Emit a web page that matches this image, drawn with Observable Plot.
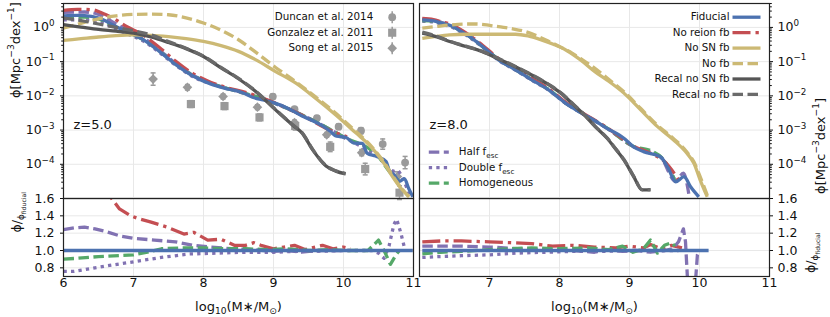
<!DOCTYPE html>
<html><head><meta charset="utf-8">
<script src="https://cdn.jsdelivr.net/npm/d3@7"></script>
<script src="https://cdn.jsdelivr.net/npm/@observablehq/plot@0.6"></script>
<style>
body{margin:0;background:#fff;}
#chart{position:relative;width:830px;height:317px;font-family:"DejaVu Sans",sans-serif;color:#111;}
#chart svg{position:absolute;overflow:visible;background:transparent;max-width:none;}
</style></head><body><div id="chart"></div>
<script>
// ---------------- tick labels ----------------
const massTicksLeft = [6, 7, 8, 9, 10, 11];
const massTicksRight = [7, 8, 9, 10, 11];
const massGrid = [7, 8, 9, 10];
const phiTicks = [1e-4, 1e-3, 1e-2, 1e-1, 1];
const ratioTicks = [0.8, 1.0, 1.2, 1.4, 1.6];
const ratioGrid = [0.8, 1.0, 1.2, 1.4];

// ---------------- legend labels ----------------
const modelLabels = ["Fiducial", "No reion fb", "No SN fb", "No fb", "Recal no SN fb", "Recal no fb"];
const modelKeys = ["fid", "reion", "sn", "nofb", "recalSN", "recalFb"];
const escLabels = ["Half f_{esc}", "Double f_{esc}", "Homogeneous"];
const escKeys = ["half", "dbl", "hom"];
const obsLabels = ["Duncan et al. 2014", "Gonzalez et al. 2011", "Song et al. 2015"];
const panelLabels = ["z=5.0", "z=8.0"];

// ---------------- observations z=5 (log10 M*, log10 phi, err dex) ----------------
const duncanM = [8.99, 9.30, 9.62, 9.93, 10.25, 10.56, 10.88];
const duncanLogPhi = [-2.02, -2.39, -2.65, -2.90, -3.02, -3.41, -3.95];
const duncanErr = [0.07, 0.07, 0.07, 0.08, 0.09, 0.15, 0.18];
const gonzalezM = [7.82, 8.30, 8.80, 9.31, 9.81, 10.31, 10.80];
const gonzalezLogPhi = [-2.24, -2.30, -2.63, -2.88, -3.49, -4.14, -4.83];
const gonzalezErr = [0.10, 0.10, 0.10, 0.12, 0.14, 0.17, 0.20];
const songM = [7.28, 7.77, 8.28, 8.77, 9.30, 9.76, 10.26, 10.77];
const songLogPhi = [-1.51, -1.75, -2.02, -2.33, -2.78, -3.14, -3.66, -4.36];
const songErr = [0.18, 0.08, 0.07, 0.07, 0.07, 0.07, 0.09, 0.14];

// ---------------- z=5 mass functions [log10 M*, log10 phi] ----------------
const z5fid = [[6.0,0.34],[6.2,0.35],[6.4,0.32],[6.55,0.24],[6.7,0.08],[6.9,-0.12],[7.15,-0.37],[7.4,-0.75],[7.6,-1.08],[7.85,-1.42],[8.1,-1.65],[8.35,-1.8],[8.55,-1.9],[8.7,-2.04],[8.85,-2.12],[9.0,-2.2],[9.2,-2.36],[9.4,-2.58],[9.55,-2.72],[9.7,-2.88],[9.8,-3.02],[9.9,-3.18],[10.03,-3.21],[10.15,-3.38],[10.27,-3.39],[10.34,-3.68],[10.46,-3.76],[10.61,-3.92],[10.65,-4.17],[10.72,-4.3],[10.8,-4.5],[10.87,-4.42],[10.93,-4.7],[10.99,-4.95]];
const z5reion = [[6.0,0.5],[6.2,0.53],[6.4,0.52],[6.55,0.42],[6.7,0.28],[6.9,0.03],[7.15,-0.24],[7.4,-0.64],[7.6,-0.98],[7.85,-1.35],[8.1,-1.6],[8.35,-1.77],[8.6,-1.9],[9.0,-2.19],[9.4,-2.56],[9.8,-3.0],[10.05,-3.2]];
const z5half = [[6.0,0.44],[6.3,0.45],[6.5,0.38],[6.7,0.16],[6.9,-0.06],[7.15,-0.32],[7.4,-0.71],[7.6,-1.05],[7.85,-1.4],[8.2,-1.7],[8.6,-1.93],[9.0,-2.2],[9.5,-2.65],[10.0,-3.2]];
const z5dbl = [[6.0,0.22],[6.3,0.22],[6.5,0.2],[6.7,0.0],[6.9,-0.18],[7.15,-0.41],[7.4,-0.78],[7.6,-1.1],[7.85,-1.44],[8.2,-1.7],[8.6,-1.94],[9.0,-2.21],[9.5,-2.66],[10.0,-3.21],[10.5,-3.8],[10.72,-4.2],[10.76,-4.17],[10.85,-4.43],[10.95,-4.95]];
const z5hom = [[6.0,0.29],[6.3,0.3],[6.5,0.25],[6.7,0.06],[6.9,-0.13],[7.15,-0.37],[7.4,-0.74],[7.6,-1.07],[7.85,-1.41],[8.2,-1.7],[8.6,-1.93],[9.0,-2.2],[9.5,-2.65],[10.0,-3.2],[10.5,-3.78],[10.67,-4.25],[10.8,-4.5]];
const z5sn = [[6.0,-0.38],[6.25,-0.33],[6.5,-0.28],[6.75,-0.24],[7.0,-0.22],[7.25,-0.23],[7.5,-0.27],[7.75,-0.33],[8.0,-0.41],[8.25,-0.53],[8.5,-0.7],[8.75,-0.95],[9.03,-1.29],[9.32,-1.63],[9.6,-2.07],[9.89,-2.56],[10.18,-3.09],[10.37,-3.44],[10.51,-3.78],[10.61,-4.07],[10.7,-4.36],[10.8,-4.65],[10.94,-4.95]];
const z5nofb = [[6.0,-0.02],[6.25,0.12],[6.5,0.25],[6.75,0.34],[7.0,0.38],[7.25,0.39],[7.5,0.37],[7.75,0.28],[8.0,0.13],[8.25,-0.08],[8.5,-0.36],[8.75,-0.73],[9.03,-1.17],[9.32,-1.59],[9.6,-2.03],[9.89,-2.51],[10.18,-3.05],[10.37,-3.41],[10.51,-3.75],[10.61,-4.03],[10.7,-4.33],[10.8,-4.62],[10.93,-4.95]];
const z5recalSN = [[6.0,0.08],[6.25,0.01],[6.5,-0.06],[6.75,-0.11],[7.0,-0.17],[7.25,-0.28],[7.5,-0.44],[7.75,-0.62],[8.0,-0.85],[8.25,-1.18],[8.5,-1.5],[8.75,-1.88],[9.03,-2.41],[9.27,-2.85],[9.41,-3.09],[9.56,-3.58],[9.75,-4.05],[9.89,-4.2],[10.03,-4.28]];
const z5recalFb = [[6.0,0.27],[6.25,0.2],[6.5,0.1],[6.75,0.0],[7.0,-0.1],[7.25,-0.22],[7.5,-0.41],[7.75,-0.61],[8.0,-0.84],[8.25,-1.17],[8.5,-1.49],[8.75,-1.87],[9.03,-2.4],[9.27,-2.84],[9.41,-3.08],[9.56,-3.57],[9.75,-4.04],[9.89,-4.19],[10.03,-4.27]];

// ---------------- z=8 mass functions ----------------
const z8fid = [[6.04,0.22],[6.2,0.19],[6.32,0.12],[6.45,0.05],[6.56,-0.07],[6.7,-0.25],[6.9,-0.56],[7.13,-0.95],[7.37,-1.24],[7.61,-1.54],[7.85,-1.83],[8.09,-2.22],[8.32,-2.51],[8.5,-2.72],[8.68,-2.95],[8.92,-3.24],[9.06,-3.49],[9.2,-3.63],[9.44,-3.78],[9.55,-4.1],[9.66,-4.51],[9.78,-4.36],[9.87,-4.65],[9.99,-4.95]];
const z8reion = [[6.04,0.26],[6.2,0.23],[6.32,0.16],[6.45,0.09],[6.56,-0.03],[6.7,-0.21],[6.9,-0.52],[7.13,-0.91],[7.37,-1.2],[7.61,-1.5],[7.85,-1.8],[8.09,-2.19],[8.32,-2.49],[8.68,-2.93],[9.06,-3.47],[9.3,-3.68],[9.5,-3.92],[9.7,-4.45]];
const z8half = [[6.04,0.24],[6.2,0.21],[6.32,0.14],[6.45,0.07],[6.56,-0.05],[6.7,-0.23],[6.9,-0.55],[7.13,-0.94],[7.37,-1.23],[7.61,-1.54],[7.85,-1.83],[8.09,-2.22],[8.32,-2.51],[8.68,-2.95],[9.06,-3.49],[9.44,-3.78],[9.66,-4.5],[9.77,-4.26],[9.85,-4.9]];
const z8dbl = [[6.04,0.18],[6.2,0.16],[6.32,0.09],[6.45,0.02],[6.56,-0.1],[6.7,-0.27],[6.9,-0.58],[7.13,-0.96],[7.37,-1.25],[7.61,-1.55],[7.85,-1.84],[8.09,-2.22],[8.32,-2.51],[8.68,-2.95],[9.06,-3.49],[9.44,-3.78],[9.66,-4.51]];
const z8hom = [[6.04,0.2],[6.2,0.18],[6.32,0.12],[6.45,0.05],[6.56,-0.07],[6.7,-0.25],[6.9,-0.56],[7.13,-0.94],[7.37,-1.23],[7.61,-1.53],[7.85,-1.82],[8.09,-2.21],[8.32,-2.5],[8.68,-2.94],[9.06,-3.48],[9.3,-3.6],[9.5,-3.9],[9.65,-4.48]];
const z8sn = [[6.04,-0.32],[6.25,-0.26],[6.43,-0.22],[6.65,-0.2],[6.9,-0.2],[7.15,-0.2],[7.37,-0.2],[7.55,-0.25],[7.75,-0.37],[7.92,-0.5],[8.09,-0.66],[8.3,-0.95],[8.51,-1.3],[8.68,-1.54],[8.92,-1.92],[9.16,-2.41],[9.4,-2.9],[9.63,-3.29],[9.82,-3.68],[9.92,-3.97],[10.01,-4.46],[10.11,-4.95]];
const z8nofb = [[6.04,-0.02],[6.25,0.03],[6.43,0.07],[6.65,0.1],[6.81,0.1],[7.0,0.06],[7.13,0.02],[7.33,-0.04],[7.51,-0.12],[7.68,-0.25],[7.85,-0.41],[8.02,-0.58],[8.18,-0.75],[8.35,-0.98],[8.51,-1.2],[8.68,-1.48],[8.92,-1.88],[9.16,-2.37],[9.4,-2.86],[9.63,-3.25],[9.82,-3.64],[9.92,-3.93],[10.02,-4.42],[10.12,-4.95]];
const z8recalSN = [[6.04,-0.17],[6.25,-0.28],[6.43,-0.41],[6.65,-0.55],[6.9,-0.71],[7.13,-0.92],[7.37,-1.15],[7.61,-1.4],[7.85,-1.68],[8.02,-1.92],[8.18,-2.22],[8.35,-2.55],[8.51,-2.9],[8.68,-3.24],[8.8,-3.55],[8.92,-3.87],[9.06,-4.36],[9.18,-4.75],[9.3,-4.75]];
const z8recalFb = [[6.04,-0.14],[6.25,-0.26],[6.43,-0.4],[6.65,-0.54],[6.9,-0.7],[7.13,-0.91],[7.37,-1.14],[7.61,-1.39],[7.85,-1.67],[8.02,-1.91],[8.18,-2.21],[8.35,-2.54],[8.51,-2.89],[8.68,-3.23],[8.8,-3.54],[8.92,-3.86],[9.06,-4.35],[9.18,-4.74],[9.3,-4.74]];

// ---------------- ratios phi/phi_fiducial ----------------
const r5fid = [[6.0,1.0],[10.99,1.0]];
const r5reion = [[6.5,1.85],[6.67,1.62],[6.8,1.48],[6.96,1.40],[7.1,1.36],[7.24,1.33],[7.48,1.27],[7.72,1.19],[7.86,1.21],[8.06,1.12],[8.25,1.13],[8.44,1.06],[8.6,1.06],[8.72,1.09],[8.82,1.06],[9.0,1.02],[9.15,1.04],[9.3,1.06],[9.45,1.01],[9.6,1.04],[9.7,1.06],[9.85,1.02],[10.0,1.04],[10.1,1.02]];
const r5half = [[6.0,1.24],[6.15,1.26],[6.3,1.27],[6.45,1.25],[6.6,1.22],[6.8,1.17],[7.0,1.14],[7.3,1.12],[7.6,1.10],[7.85,1.06],[8.1,1.04],[8.4,1.02],[8.7,1.01],[9.0,0.99],[9.2,1.0],[9.4,0.98],[9.6,1.0],[9.8,1.0],[10.0,1.0]];
const r5dbl = [[6.0,0.76],[6.15,0.76],[6.3,0.78],[6.6,0.82],[7.0,0.87],[7.4,0.92],[7.8,0.96],[8.2,0.97],[8.6,0.98],[9.0,0.98],[9.3,0.99],[9.6,0.99],[10.0,1.0],[10.4,1.0],[10.5,0.97],[10.58,0.91],[10.65,1.05],[10.72,1.3],[10.76,1.36],[10.82,1.2],[10.88,1.0]];
const r5hom = [[6.0,0.90],[6.2,0.91],[6.5,0.93],[7.0,0.95],[7.2,0.98],[7.4,1.02],[7.7,1.03],[8.0,1.03],[8.3,1.02],[8.6,1.02],[8.9,1.01],[9.2,1.02],[9.5,1.0],[9.8,1.01],[10.0,1.0],[10.35,1.0],[10.5,1.12],[10.58,1.0],[10.67,0.84],[10.75,0.95],[10.8,1.0]];
const r8fid = [[6.04,1.0],[10.13,1.0]];
const r8reion = [[6.04,1.1],[6.3,1.11],[6.6,1.11],[7.0,1.1],[7.3,1.09],[7.6,1.08],[7.9,1.05],[8.2,1.06],[8.5,1.04],[8.8,1.03],[9.0,1.05],[9.2,1.03],[9.3,1.07],[9.45,1.02],[9.6,1.06],[9.75,1.03]];
const r8half = [[6.04,1.05],[6.3,1.05],[6.6,1.05],[7.0,1.04],[7.4,1.02],[7.8,1.01],[8.2,1.0],[8.5,0.98],[8.7,1.01],[8.9,0.99],[9.1,1.0],[9.3,0.98],[9.5,1.0],[9.62,1.02],[9.7,1.1],[9.77,1.25],[9.8,1.1],[9.84,0.5],[9.93,0.5],[9.97,0.95],[10.0,1.0]];
const r8dbl = [[6.04,0.92],[6.3,0.93],[6.6,0.94],[7.0,0.95],[7.4,0.97],[7.8,0.98],[8.2,0.99],[8.6,0.99],[9.0,1.0],[9.4,1.0],[9.7,1.0]];
const r8hom = [[6.04,0.96],[6.3,0.98],[6.6,0.99],[7.0,1.01],[7.3,1.02],[7.6,1.03],[8.0,1.02],[8.4,1.03],[8.7,1.01],[8.9,1.05],[9.05,0.98],[9.2,1.02],[9.3,1.12],[9.4,0.97],[9.5,1.06],[9.6,1.09],[9.65,1.05]];

// ---------------- styles ----------------
const LW = 3.3;
const STY = {
  fid: {stroke: "#4c72b0"},
  reion: {stroke: "#c44e52", strokeDasharray: "18,5,3.3,5"},
  sn: {stroke: "#ccb974"},
  nofb: {stroke: "#ccb974", strokeDasharray: "10.5,4.5"},
  recalSN: {stroke: "#555555"},
  recalFb: {stroke: "#6a6a6a", strokeDasharray: "10.5,4.5"},
  half: {stroke: "#8172b2", strokeDasharray: "10.5,4.5"},
  dbl: {stroke: "#8172b2", strokeDasharray: "3.3,4.2"},
  hom: {stroke: "#55a868", strokeDasharray: "10.5,4.5"}
};
const GREY = "#9a9a9a", GRID = "#e8e8e8", FRAME = "#222";
const FONT = "DejaVu Sans";

const hline = L => ({draw(ctx) { ctx.moveTo(-L, 0); ctx.lineTo(L, 0); }});
const vline = L => ({draw(ctx) { ctx.moveTo(0, -L); ctx.lineTo(0, L); }});
const diamondSym = {draw(ctx, size) { const r = Math.sqrt(size / Math.PI) * 1.15; ctx.moveTo(0, -r); ctx.lineTo(r, 0); ctx.lineTo(0, r); ctx.lineTo(-r, 0); ctx.closePath(); }};

const topLine = (data, key) => Plot.line(data, {x: d => d[0], y: d => 10 ** d[1], strokeWidth: LW, strokeLinecap: "butt", strokeLinejoin: "round", curve: "monotone-x", clip: true, ...STY[key]});
const ratioLine = (data, key) => Plot.line(data, {x: d => d[0], y: d => d[1], strokeWidth: LW, strokeLinecap: "butt", strokeLinejoin: "round", clip: true, ...STY[key]});

const obsSets = [
  {m: duncanM, l: duncanLogPhi, e: duncanErr, symbol: "circle", r: 3.9},
  {m: gonzalezM, l: gonzalezLogPhi, e: gonzalezErr, symbol: "square", r: 4.6},
  {m: songM, l: songLogPhi, e: songErr, symbol: diamondSym, r: 4.2}
];
const expFmt = v => { const k = Math.round(Math.log10(v)); return `10^{${k < 0 ? "\u2212" + (-k) : k}}`; };
const minorPhi = [];
for (let k = -5; k <= 0; k++) for (let j = 2; j <= 9; j++) if (j * 10 ** k <= 5) minorPhi.push(j * 10 ** k);

const commonStyle = {fontFamily: FONT, fontSize: "12.5px", background: "transparent", overflow: "visible", color: "#111"};
const txt = (s, o) => Plot.text([s], {text: d => d, fontFamily: FONT, fill: "#111", ...o});

function topPanel(which) {
  const left = which === 5;
  const d = left
    ? {half: z5half, dbl: z5dbl, hom: z5hom, reion: z5reion, fid: z5fid, sn: z5sn, nofb: z5nofb, recalSN: z5recalSN, recalFb: z5recalFb}
    : {half: z8half, dbl: z8dbl, hom: z8hom, reion: z8reion, fid: z8fid, sn: z8sn, nofb: z8nofb, recalSN: z8recalSN, recalFb: z8recalFb};
  const marks = [
    Plot.ruleY(phiTicks, {stroke: GRID, strokeWidth: 1}),
    Plot.ruleX(massGrid, {stroke: GRID, strokeWidth: 1})
  ];
  if (left) {
    for (const s of obsSets) {
      const rows = s.m.map((m, i) => ({m, l: s.l[i], e: s.e[i]}));
      marks.push(
        Plot.ruleX(rows, {x: "m", y1: r => 10 ** (r.l - r.e), y2: r => 10 ** (r.l + r.e), stroke: GREY, strokeWidth: 1.5}),
        Plot.dot(rows, {x: "m", y: r => 10 ** (r.l + r.e), symbol: hline(2.5), stroke: GREY, strokeWidth: 1.5, fill: "none"}),
        Plot.dot(rows, {x: "m", y: r => 10 ** (r.l - r.e), symbol: hline(2.5), stroke: GREY, strokeWidth: 1.5, fill: "none"}),
        Plot.dot(rows, {x: "m", y: r => 10 ** r.l, symbol: s.symbol, r: s.r, fill: GREY, stroke: "none"})
      );
    }
  }
  for (const k of ["half", "dbl", "hom", "reion", "fid", "sn", "nofb", "recalSN", "recalFb"]) marks.push(topLine(d[k], k));
  marks.push(Plot.frame({stroke: FRAME, strokeWidth: 1.2}));
  const anchor = left ? "left" : "right";
  marks.push(
    Plot.axisY(phiTicks, {anchor, tickSize: 3, tickPadding: left ? 6 : 5, tickFormat: expFmt, fontSize: 12.5, label: null, fill: "#111"}),
    Plot.axisY(minorPhi, {anchor, tickSize: 1.8, tickFormat: () => "", label: null})
  );
  marks.push(txt(left ? panelLabels[0] : panelLabels[1], {frameAnchor: "top-left", dx: 10, dy: 121, textAnchor: "start", lineAnchor: "middle", fontSize: 13}));
  marks.push(txt("\u03d5[Mpc^{\u22123}dex^{\u22121}]", {frameAnchor: left ? "left" : "right", dx: left ? -48 : 51, dy: -3, rotate: -90, fontSize: 13, lineAnchor: "middle"}));
  if (left) {
    obsSets.forEach((s, i) => {
      const dy = 13.7 + 15.5 * i;
      marks.push(
        txt(obsLabels[i], {frameAnchor: "top-right", dx: -40.3, dy, textAnchor: "end", lineAnchor: "middle", fontSize: 10.3}),
        Plot.dot([0], {frameAnchor: "top-right", dx: -21.3, dy, symbol: vline(6), stroke: GREY, strokeWidth: 1.5, fill: "none"}),
        Plot.dot([0], {frameAnchor: "top-right", dx: -21.3, dy, symbol: s.symbol, r: s.r, fill: GREY, stroke: "none"})
      );
    });
  } else {
    modelKeys.forEach((k, i) => {
      const dy = 13.7 + 15.45 * i;
      marks.push(
        txt(modelLabels[i], {frameAnchor: "top-right", dx: -40, dy, textAnchor: "end", lineAnchor: "middle", fontSize: 10.3}),
        Plot.dot([0], {frameAnchor: "top-right", dx: -23, dy, symbol: hline(14), strokeWidth: LW, strokeLinecap: "butt", fill: "none", ...STY[k]})
      );
    });
    escKeys.forEach((k, i) => {
      const dy = -46.3 + 15.5 * i;
      marks.push(
        txt(escLabels[i], {frameAnchor: "bottom-left", dx: 39.3, dy, textAnchor: "start", lineAnchor: "middle", fontSize: 10.3}),
        Plot.dot([0], {frameAnchor: "bottom-left", dx: 19.3, dy, symbol: hline(10), strokeWidth: LW, strokeLinecap: "butt", fill: "none", ...STY[k]})
      );
    });
  }
  return Plot.plot({
    width: left ? 419 : 417, height: 198,
    marginLeft: left ? 63 : 6, marginRight: left ? 6 : 61, marginTop: 3, marginBottom: 0,
    x: {domain: [6, 11], axis: null},
    y: {type: "log", domain: [1e-5, 5]},
    style: commonStyle,
    marks
  });
}

function ratioPanel(which) {
  const left = which === 5;
  const d = left
    ? {reion: r5reion, half: r5half, dbl: r5dbl, hom: r5hom, fid: r5fid}
    : {reion: r8reion, half: r8half, dbl: r8dbl, hom: r8hom, fid: r8fid};
  const marks = [
    Plot.ruleY(ratioGrid, {stroke: GRID, strokeWidth: 1}),
    Plot.ruleX(massGrid, {stroke: GRID, strokeWidth: 1})
  ];
  for (const k of ["reion", "half", "dbl", "hom", "fid"]) marks.push(ratioLine(d[k], k));
  marks.push(Plot.frame({stroke: FRAME, strokeWidth: 1.2}));
  const anchor = left ? "left" : "right";
  marks.push(
    Plot.axisY(ratioTicks, {anchor, tickSize: 3, tickPadding: left ? 6 : 5, tickFormat: v => v.toFixed(1), fontSize: 12.5, label: null, fill: "#111"}),
    Plot.axisX(left ? massTicksLeft : massTicksRight, {anchor: "bottom", tickSize: 0, tickPadding: 1.5, tickFormat: v => String(v), fontSize: 12.5, label: null, fill: "#111"}),
    txt("log_{10}(M\u2217/M_{\u2299})", {frameAnchor: "bottom", dy: 30, fontSize: 13, lineAnchor: "middle"}),
    txt("\u03d5/_{\u03d5_{fiducial}}", {frameAnchor: left ? "left" : "right", dx: left ? -47 : 41, dy: -5, rotate: -90, fontSize: 12.5, lineAnchor: "middle"})
  );
  return Plot.plot({
    width: left ? 419 : 417, height: 119,
    marginLeft: left ? 63 : 6, marginRight: left ? 6 : 61, marginTop: 0, marginBottom: 41,
    x: {domain: [6, 11]},
    y: {domain: [0.7, 1.6]},
    style: commonStyle,
    marks
  });
}

// ---------------- rich text (sub/superscripts) ----------------
function rich(root) {
  root.querySelectorAll("text").forEach(t => {
    const s = t.textContent;
    if (!/[_^]\{/.test(s)) return;
    const fs = parseFloat(getComputedStyle(t).fontSize) || 12;
    const runs = [], stack = [{size: fs, off: 0}];
    let buf = "", i = 0;
    const flush = () => { if (buf) { const top = stack[stack.length - 1]; runs.push({text: buf, size: top.size, off: top.off}); buf = ""; } };
    while (i < s.length) {
      const c = s[i];
      if ((c === "_" || c === "^") && s[i + 1] === "{") {
        flush();
        const top = stack[stack.length - 1];
        stack.push({size: top.size * 0.7, off: top.off + (c === "_" ? 0.25 * top.size : -0.42 * top.size)});
        i += 2; continue;
      }
      if (c === "}" && stack.length > 1) { flush(); stack.pop(); i++; continue; }
      buf += c; i++;
    }
    flush();
    while (t.firstChild) t.removeChild(t.firstChild);
    let cur = 0;
    for (const r of runs) {
      const ts = document.createElementNS("http://www.w3.org/2000/svg", "tspan");
      ts.textContent = r.text;
      ts.setAttribute("font-size", r.size.toFixed(2));
      const dd = r.off - cur;
      if (Math.abs(dd) > 1e-6) ts.setAttribute("dy", dd.toFixed(2));
      cur = r.off;
      t.appendChild(ts);
    }
  });
}

const chart = document.getElementById("chart");
function place(svg, left, top) {
  svg.style.left = left + "px";
  svg.style.top = top + "px";
  chart.appendChild(svg);
  rich(svg);
}
place(ratioPanel(5), 0, 198);
place(ratioPanel(8), 413, 198);
place(topPanel(5), 0, 0);
place(topPanel(8), 413, 0);
</script></body></html>
